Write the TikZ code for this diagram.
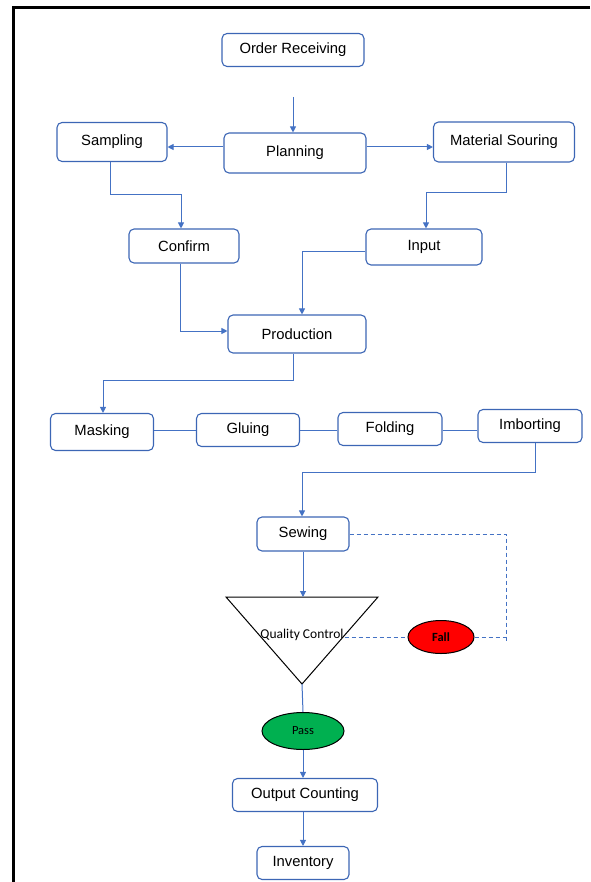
\documentclass[tikz,border=0pt]{standalone}
\usepackage{fontspec}
\setmainfont{Liberation Sans}
\newfontfamily\calibri{Carlito}
\usetikzlibrary{arrows.meta,shapes.geometric}
\definecolor{boxblue}{HTML}{3C66B5}
\definecolor{linkblue}{HTML}{4472C4}
\definecolor{failred}{HTML}{FF0000}
\definecolor{passgreen}{HTML}{00B050}
\begin{document}
\begin{tikzpicture}[x=1pt,y=-1pt,
  stepbox/.style={draw=boxblue,line width=1.1pt,rounded corners=5pt,fill=white,
    inner sep=0pt,font=\fontsize{14.8}{17}\selectfont},
  link/.style={draw=linkblue,line width=1pt},
  arr/.style={link,-{Triangle[width=6pt,length=6pt]}},
  dashlink/.style={link,dashed,dash pattern=on 4pt off 3pt},
  verdict/.style={ellipse,draw=black,line width=1pt,inner sep=0pt,
    font=\calibri\fontsize{12.5}{14}\selectfont}]
\useasboundingbox (0,0) rectangle (590,882);
% outer frame
\draw[line width=3pt] (590,8) -- (13,8) -- (13,882);

% process boxes
\node[stepbox,minimum width=142pt,minimum height=33pt] (order) at (293,50) {Order Receiving};
\node[stepbox,minimum width=142pt,minimum height=40pt] (plan) at (295,153) {Planning};
\node[stepbox,minimum width=110pt,minimum height=39pt] (samp) at (112,142) {Sampling};
\node[stepbox,minimum width=141pt,minimum height=40pt] (mat) at (504,142) {Material Souring};
\node[stepbox,minimum width=110pt,minimum height=34pt] (conf) at (184,246) {Confirm};
\node[stepbox,minimum width=116pt,minimum height=36pt] (inp) at (424,247) {Input};
\node[stepbox,minimum width=138pt,minimum height=38pt] (prod) at (297,334) {Production};
\node[stepbox,minimum width=103pt,minimum height=37pt] (mask) at (102,432) {Masking};
\node[stepbox,minimum width=103pt,minimum height=33pt] (glue) at (248,430) {Gluing};
\node[stepbox,minimum width=104pt,minimum height=33pt] (fold) at (390,429) {Folding};
\node[stepbox,minimum width=104pt,minimum height=33pt] (imb) at (530,426) {Imborting};
\node[stepbox,minimum width=92pt,minimum height=34pt] (sew) at (303,534) {Sewing};
\node[stepbox,minimum width=145pt,minimum height=33pt] (outc) at (305,795) {Output Counting};
\node[stepbox,minimum width=92pt,minimum height=33pt] (inv) at (303,863) {Inventory};

% quality control triangle
\coordinate (qctl) at (226,597);
\coordinate (qctr) at (378,597);
\coordinate (qcbot) at (302,684);
\coordinate (qctop) at (302,597);
\draw[line width=1pt] (qctl) -- (qctr) -- (qcbot) -- cycle;
\node[font=\calibri\fontsize{13.5}{15}\selectfont,inner sep=1pt] (qc) at (302,635) {Quality Control};

% verdicts
\node[verdict,fill=failred,minimum width=66pt,minimum height=33pt,font=\calibri\bfseries\fontsize{12.5}{14}\selectfont] (fail) at (441,637) {Fall};
\node[verdict,fill=passgreen,minimum width=82pt,minimum height=37pt] (pass) at (303,731) {Pass};

% connectors
\coordinate (orfoot) at (293,97);
\draw[arr] (orfoot) -- (orfoot |- plan.north);
\draw[arr] (plan.west |- 0,147) -- (samp.east |- 0,147);
\draw[arr] (plan.east |- 0,147) -- (mat.west |- 0,147);
\draw[arr] (samp.south -| 110,0) -- (110,195) -- (181,195) -- (conf.north -| 181,0);
\draw[arr] (mat.south -| 506,0) -- (506,193) -- (426,193) -- (inp.north -| 426,0);
\draw[arr] (conf.south -| 180,0) -- (180,331) -- (prod.west |- 0,331);
\draw[arr] (inp.west |- 0,252) -- (302,252) -- (prod.north -| 302,0);
\draw[arr] (prod.south -| 293,0) -- (293,380) -- (103,380) -- (mask.north -| 103,0);
\draw[link] (mask.east |- 0,430) -- (glue.west |- 0,430);
\draw[link] (glue.east |- 0,430) -- (fold.west |- 0,430);
\draw[link] (fold.east |- 0,430) -- (imb.west |- 0,430);
\draw[arr] (imb.south -| 535,0) -- (535,472) -- (302,472) -- (sew.north -| 302,0);
\draw[arr] (sew.south -| 303,0) -- (qctop -| 303,0);
\draw[link] (qcbot) -- (pass.north);
\draw[arr] (pass.south) -- (outc.north -| pass.south);
\draw[arr] (outc.south -| 303,0) -- (inv.north -| 303,0);
% rejection loop
\draw[dashlink] (sew.east) -- (506,534) -- (506,642);
\draw[dashlink] (fail.east) -- (506,637);
\draw[dashlink] (qc.east |- 0,637) -- (fail.west);
\end{tikzpicture}
\end{document}
